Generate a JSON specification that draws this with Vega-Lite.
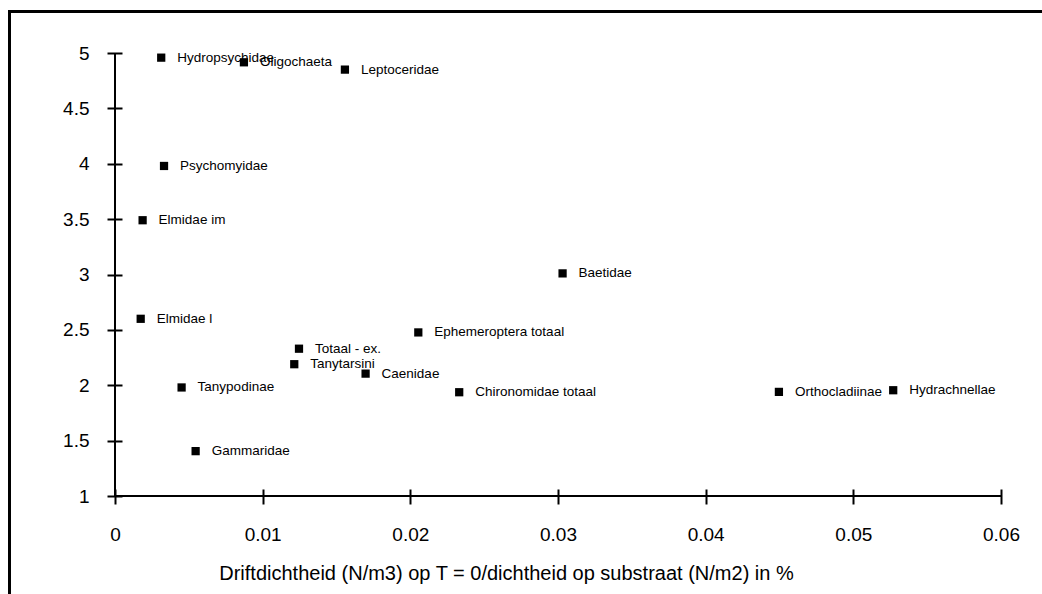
{
  "$schema": "https://vega.github.io/schema/vega-lite/v6.json",
  "autosize": {"type": "none"},
  "padding": {"left": 115, "top": 53, "right": 41, "bottom": 98},
  "width": 886,
  "height": 443,
  "background": "white",
  "config": {
    "view": {"stroke": null},
    "font": "Liberation Sans",
    "axis": {"labelFont": "Liberation Sans", "titleFont": "Liberation Sans", "labelColor": "black", "titleColor": "black", "tickColor": "black", "grid": false}
  },
  "data": {
    "values": [
      {"taxon": "Hydropsychidae", "x": 0.00313, "y": 4.958},
      {"taxon": "Oligochaeta", "x": 0.00873, "y": 4.916},
      {"taxon": "Leptoceridae", "x": 0.01557, "y": 4.85},
      {"taxon": "Psychomyidae", "x": 0.00332, "y": 3.98},
      {"taxon": "Elmidae im", "x": 0.00187, "y": 3.49},
      {"taxon": "Baetidae", "x": 0.03031, "y": 3.01},
      {"taxon": "Elmidae l", "x": 0.00174, "y": 2.6},
      {"taxon": "Ephemeroptera totaal", "x": 0.02054, "y": 2.477},
      {"taxon": "Totaal - ex.", "x": 0.01246, "y": 2.33},
      {"taxon": "Tanytarsini", "x": 0.01214, "y": 2.19},
      {"taxon": "Caenidae", "x": 0.01697, "y": 2.105},
      {"taxon": "Tanypodinae", "x": 0.00451, "y": 1.98},
      {"taxon": "Chironomidae totaal", "x": 0.02331, "y": 1.937},
      {"taxon": "Orthocladiinae", "x": 0.04496, "y": 1.94},
      {"taxon": "Hydrachnellae", "x": 0.0527, "y": 1.955},
      {"taxon": "Gammaridae", "x": 0.00546, "y": 1.405}
    ]
  },
  "layer": [
    {
      "mark": {"type": "rect", "fill": null, "stroke": "black", "strokeWidth": 2.5, "clip": false},
      "encoding": {
        "x": {"datum": -0.00714},
        "x2": {"datum": 0.07},
        "y": {"datum": 5.376},
        "y2": {"datum": 0.0}
      }
    },
    {
      "mark": {"type": "rule", "color": "black", "strokeWidth": 2},
      "encoding": {
        "x": {"datum": 0},
        "y": {"datum": 1},
        "y2": {"datum": 5}
      }
    },
    {
      "mark": {"type": "rule", "color": "black", "strokeWidth": 2},
      "encoding": {
        "x": {"datum": 0},
        "x2": {"datum": 0.06},
        "y": {"datum": 1}
      }
    },
    {
      "mark": {"type": "point", "shape": "square", "filled": true, "color": "black", "size": 68, "opacity": 1},
      "encoding": {
        "x": {
          "field": "x", "type": "quantitative",
          "scale": {"domain": [0, 0.06], "nice": false, "zero": false},
          "axis": {
            "values": [0, 0.01, 0.02, 0.03, 0.04, 0.05, 0.06],
            "format": "~g",
            "domain": false,
            "offset": -7,
            "tickSize": 15,
            "tickWidth": 2,
            "labelFontSize": 19,
            "labelPadding": 21,
            "labelFlush": false,
            "title": "Driftdichtheid (N/m3) op T = 0/dichtheid op substraat (N/m2) in %",
            "titleFontSize": 20,
            "titleFontWeight": "normal",
            "titleBaseline": "alphabetic",
            "titleAlign": "center",
            "titleX": 391,
            "titleY": 90
          }
        },
        "y": {
          "field": "y", "type": "quantitative",
          "scale": {"domain": [1, 5], "nice": false, "zero": false},
          "axis": {
            "values": [1, 1.5, 2, 2.5, 3, 3.5, 4, 4.5, 5],
            "format": "~g",
            "domain": false,
            "offset": -7,
            "tickSize": 15,
            "tickWidth": 2,
            "labelFontSize": 19,
            "labelPadding": 18,
            "labelFlush": false,
            "title": null
          }
        }
      }
    },
    {
      "mark": {"type": "text", "align": "left", "baseline": "middle", "dx": 16, "fontSize": 13.5, "color": "black", "font": "Liberation Sans"},
      "encoding": {
        "x": {"field": "x", "type": "quantitative"},
        "y": {"field": "y", "type": "quantitative"},
        "text": {"field": "taxon"}
      }
    }
  ]
}
